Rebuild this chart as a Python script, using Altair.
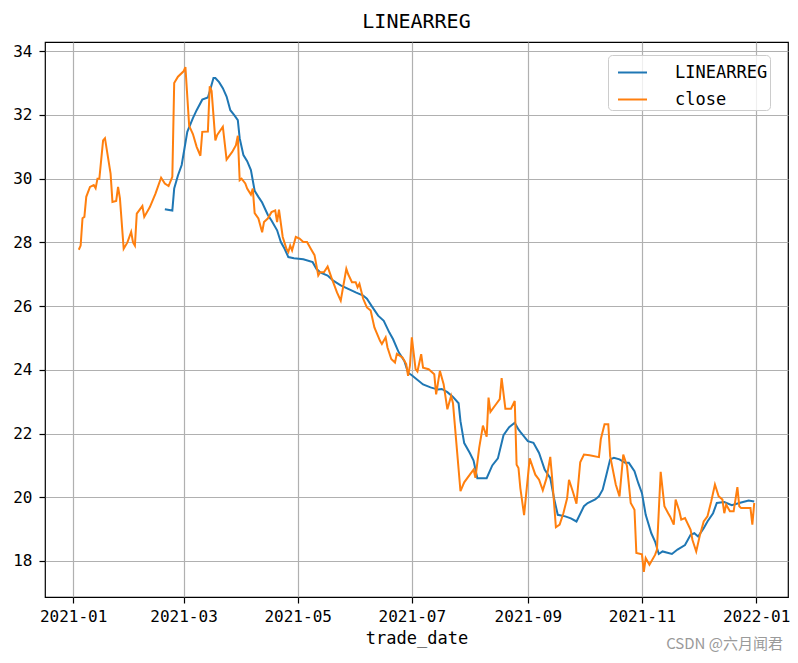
import altair as alt
import pandas as pd

series_names = ["LINEARREG", "close"]
series_colors = ["#1f77b4", "#ff7f0e"]
y_ticks = [18, 20, 22, 24, 26, 28, 30, 32, 34]
x_tick_months = [(2021, 1), (2021, 3), (2021, 5), (2021, 7), (2021, 9), (2021, 11), (2022, 1)]

close_dates = [
    "2021-01-04", "2021-01-05", "2021-01-06", "2021-01-07", "2021-01-08", "2021-01-10",
    "2021-01-12", "2021-01-13", "2021-01-14", "2021-01-15", "2021-01-17", "2021-01-18",
    "2021-01-21", "2021-01-22", "2021-01-24", "2021-01-25", "2021-01-26", "2021-01-28",
    "2021-01-30", "2021-02-01", "2021-02-02", "2021-02-03", "2021-02-04", "2021-02-07",
    "2021-02-08", "2021-02-11", "2021-02-14", "2021-02-17", "2021-02-19", "2021-02-21",
    "2021-02-23", "2021-02-24", "2021-02-26", "2021-03-01", "2021-03-02", "2021-03-04",
    "2021-03-06", "2021-03-08", "2021-03-10", "2021-03-11", "2021-03-14", "2021-03-15",
    "2021-03-16", "2021-03-18", "2021-03-19", "2021-03-22", "2021-03-24", "2021-03-27",
    "2021-03-29", "2021-03-30", "2021-03-31", "2021-04-01", "2021-04-03", "2021-04-04",
    "2021-04-06", "2021-04-07", "2021-04-08", "2021-04-10", "2021-04-12", "2021-04-13",
    "2021-04-15", "2021-04-17", "2021-04-19", "2021-04-20", "2021-04-21", "2021-04-23",
    "2021-04-25", "2021-04-26", "2021-04-27", "2021-04-28", "2021-04-30", "2021-05-02",
    "2021-05-04", "2021-05-06", "2021-05-08", "2021-05-10", "2021-05-12", "2021-05-13",
    "2021-05-15", "2021-05-17", "2021-05-19", "2021-05-22", "2021-05-24", "2021-05-27",
    "2021-05-28", "2021-05-30", "2021-06-01", "2021-06-02", "2021-06-03", "2021-06-05",
    "2021-06-07", "2021-06-09", "2021-06-11", "2021-06-14", "2021-06-15", "2021-06-17",
    "2021-06-18", "2021-06-20", "2021-06-22", "2021-06-23", "2021-06-26", "2021-06-28",
    "2021-06-29", "2021-06-30", "2021-07-01", "2021-07-03", "2021-07-04", "2021-07-06",
    "2021-07-07", "2021-07-10", "2021-07-13", "2021-07-14", "2021-07-16", "2021-07-18",
    "2021-07-20", "2021-07-22", "2021-07-23", "2021-07-27", "2021-07-29", "2021-08-01",
    "2021-08-03", "2021-08-04", "2021-08-06", "2021-08-08", "2021-08-10", "2021-08-11",
    "2021-08-12", "2021-08-15", "2021-08-17", "2021-08-18", "2021-08-20", "2021-08-23",
    "2021-08-25", "2021-08-26", "2021-08-27", "2021-08-28", "2021-08-30", "2021-09-02",
    "2021-09-05", "2021-09-07", "2021-09-09", "2021-09-11", "2021-09-13", "2021-09-14",
    "2021-09-16", "2021-09-18", "2021-09-20", "2021-09-22", "2021-09-23", "2021-09-25",
    "2021-09-27", "2021-09-29", "2021-10-01", "2021-10-04", "2021-10-09", "2021-10-10",
    "2021-10-12", "2021-10-14", "2021-10-15", "2021-10-18", "2021-10-20", "2021-10-22",
    "2021-10-24", "2021-10-26", "2021-10-28", "2021-10-29", "2021-11-01", "2021-11-02",
    "2021-11-03", "2021-11-05", "2021-11-08", "2021-11-09", "2021-11-11", "2021-11-13",
    "2021-11-15", "2021-11-16", "2021-11-18", "2021-11-19", "2021-11-21", "2021-11-22",
    "2021-11-24", "2021-11-27", "2021-11-28", "2021-11-30", "2021-12-02", "2021-12-04",
    "2021-12-06", "2021-12-08", "2021-12-10", "2021-12-12", "2021-12-14", "2021-12-15",
    "2021-12-16", "2021-12-18", "2021-12-20", "2021-12-22", "2021-12-23", "2021-12-24",
    "2021-12-29", "2021-12-30", "2021-12-31",
]
close_values = [
    27.77, 27.90, 28.76, 28.80, 29.43, 29.74,
    29.80, 29.70, 30.00, 30.00, 31.20, 31.27,
    30.16, 29.27, 29.30, 29.74, 29.38, 27.80,
    28.00, 28.33, 28.00, 27.90, 28.90, 29.14,
    28.80, 29.11, 29.53, 30.03, 29.85, 29.77,
    30.06, 33.00, 33.20, 33.37, 33.50, 31.66,
    31.40, 31.00, 30.72, 31.47, 31.48, 32.90,
    32.75, 31.20, 31.37, 31.63, 30.60, 30.84,
    31.05, 31.35, 29.95, 30.00, 29.85, 29.69,
    29.50, 29.69, 28.92, 28.75, 28.32, 28.64,
    28.75, 28.95, 29.00, 28.64, 29.03, 28.17,
    27.80, 27.70, 27.90, 27.75, 28.17, 28.12,
    28.01, 28.01, 27.80, 27.60, 26.96, 27.06,
    27.06, 27.24, 26.90, 26.43, 26.17, 27.17,
    27.00, 26.75, 26.75, 26.59, 26.70, 26.23,
    25.96, 25.86, 25.33, 24.91, 24.81, 25.02,
    24.70, 24.34, 24.23, 24.50, 24.39, 24.18,
    23.81, 24.13, 25.02, 24.02, 23.95, 24.49,
    24.07, 24.02, 23.86, 23.23, 23.97, 23.55,
    22.76, 23.18, 22.95, 20.19, 20.47, 20.71,
    20.87, 20.61, 21.55, 22.25, 21.90, 23.13,
    22.68, 22.92, 23.08, 23.74, 22.78, 22.78,
    23.02, 21.02, 20.92, 20.29, 19.44, 21.22,
    20.71, 20.55, 20.22, 20.60, 21.27, 20.60,
    19.06, 19.14, 19.50, 19.97, 20.55, 20.19,
    19.80, 21.10, 21.34, 21.32, 21.26, 21.82,
    22.29, 22.29, 21.29, 20.40, 20.03, 21.34,
    20.98, 19.82, 19.61, 18.25, 18.21, 17.66,
    18.09, 17.88, 18.19, 18.35, 20.80, 19.72,
    19.50, 19.40, 19.14, 19.93, 19.56, 19.30,
    19.35, 18.98, 18.66, 18.30, 18.82, 19.24,
    19.40, 19.87, 20.40, 20.03, 19.93, 19.50,
    19.77, 19.56, 19.56, 20.32, 19.72, 19.66,
    19.66, 19.14, 19.82,
]

lr_dates = [
    "2021-02-19", "2021-02-23", "2021-02-24", "2021-02-26", "2021-02-28", "2021-03-03",
    "2021-03-06", "2021-03-08", "2021-03-11", "2021-03-14", "2021-03-15", "2021-03-17",
    "2021-03-18", "2021-03-20", "2021-03-22", "2021-03-24", "2021-03-26", "2021-03-28",
    "2021-03-30", "2021-03-31", "2021-04-02", "2021-04-04", "2021-04-06", "2021-04-08",
    "2021-04-10", "2021-04-12", "2021-04-15", "2021-04-17", "2021-04-20", "2021-04-22",
    "2021-04-24", "2021-04-26", "2021-04-29", "2021-05-04", "2021-05-09", "2021-05-11",
    "2021-05-13", "2021-05-17", "2021-05-20", "2021-05-24", "2021-05-28", "2021-06-01",
    "2021-06-05", "2021-06-07", "2021-06-10", "2021-06-13", "2021-06-16", "2021-06-19",
    "2021-06-21", "2021-06-24", "2021-06-27", "2021-06-29", "2021-07-01", "2021-07-07",
    "2021-07-11", "2021-07-15", "2021-07-17", "2021-07-20", "2021-07-23", "2021-07-26",
    "2021-07-27", "2021-07-29", "2021-08-01", "2021-08-03", "2021-08-05", "2021-08-10",
    "2021-08-13", "2021-08-16", "2021-08-19", "2021-08-22", "2021-08-25", "2021-08-27",
    "2021-08-28", "2021-09-01", "2021-09-04", "2021-09-07", "2021-09-10", "2021-09-13",
    "2021-09-15", "2021-09-17", "2021-09-21", "2021-09-24", "2021-09-27", "2021-10-01",
    "2021-10-03", "2021-10-07", "2021-10-09", "2021-10-11", "2021-10-13", "2021-10-15",
    "2021-10-17", "2021-10-20", "2021-10-23", "2021-10-25", "2021-10-28", "2021-10-30",
    "2021-11-01", "2021-11-03", "2021-11-06", "2021-11-08", "2021-11-10", "2021-11-12",
    "2021-11-17", "2021-11-20", "2021-11-24", "2021-11-27", "2021-11-29", "2021-12-01",
    "2021-12-04", "2021-12-06", "2021-12-09", "2021-12-11", "2021-12-15", "2021-12-19",
    "2021-12-23", "2021-12-28", "2021-12-31",
]
lr_values = [
    29.04, 29.00, 29.69, 30.10, 30.43, 31.47,
    31.90, 32.15, 32.48, 32.55, 32.74, 33.16,
    33.16, 33.03, 32.84, 32.58, 32.15, 32.00,
    31.84, 31.27, 30.74, 30.55, 30.27, 29.62,
    29.43, 29.25, 28.87, 28.69, 28.38, 28.01,
    27.80, 27.54, 27.50, 27.47, 27.38, 27.17,
    27.06, 26.96, 26.80, 26.65, 26.54, 26.43,
    26.33, 26.23, 25.96, 25.70, 25.54, 25.17,
    24.96, 24.55, 24.28, 23.91, 23.83, 23.54,
    23.45, 23.38, 23.40, 23.30, 23.15, 22.95,
    22.39, 21.70, 21.39, 21.15, 20.60, 20.60,
    21.00, 21.22, 21.95, 22.20, 22.34, 22.13,
    22.05, 21.76, 21.71, 21.39, 20.87, 20.60,
    19.97, 19.45, 19.40, 19.34, 19.24, 19.72,
    19.82, 19.93, 20.03, 20.24, 20.71, 21.19,
    21.24, 21.19, 21.08, 21.08, 20.82, 20.45,
    20.13, 19.45, 18.87, 18.61, 18.22, 18.30,
    18.22, 18.36, 18.50, 18.82, 18.87, 18.77,
    19.03, 19.24, 19.50, 19.82, 19.85, 19.75,
    19.82, 19.90, 19.87,
]

watermark = ["CSDN @六月闻君"]

FONT = "DejaVu Sans Mono"

lr_df = pd.DataFrame({"trade_date": pd.to_datetime(lr_dates), "value": lr_values, "series": series_names[0]})
close_df = pd.DataFrame({"trade_date": pd.to_datetime(close_dates), "value": close_values, "series": series_names[1]})

x_enc = alt.X(
    "trade_date:T",
    title="trade_date",
    scale=alt.Scale(
        domain=[
            alt.DateTime(year=2020, month=12, date=16, hours=22, minutes=48),
            alt.DateTime(year=2022, month=1, date=18, hours=1, minutes=12),
        ],
        nice=False,
    ),
    axis=alt.Axis(
        values=[alt.DateTime(year=y, month=m, date=1) for (y, m) in x_tick_months],
        format="%Y-%m",
        labelAngle=0,
        labelPadding=5,
        titlePadding=6,
    ),
)
y_enc = alt.Y(
    "value:Q",
    title=None,
    scale=alt.Scale(domain=[16.87, 34.29], nice=False, zero=False),
    axis=alt.Axis(values=y_ticks, labelPadding=7),
)
color_enc = alt.Color(
    "series:N",
    title=None,
    scale=alt.Scale(domain=series_names, range=series_colors),
    legend=alt.Legend(
        orient="none",
        legendX=563,
        legendY=13,
        symbolType="stroke",
        symbolSize=841,
        symbolStrokeWidth=2,
        symbolOffset=7,
        labelFont=FONT,
        labelFontSize=17,
        labelColor="black",
        labelOffset=27,
        padding=2,
        rowPadding=3,
        fillColor="rgba(255,255,255,0.8)",
        strokeColor="#cccccc",
        cornerRadius=4,
    ),
)

lr_line = alt.Chart(lr_df).mark_line(strokeWidth=2).encode(x=x_enc, y=y_enc, color=color_enc)
close_line = alt.Chart(close_df).mark_line(strokeWidth=2).encode(x=x_enc, y=y_enc, color=color_enc)

wm = alt.Chart(pd.DataFrame({"t": watermark})).mark_text(
    align="right", baseline="middle", font="Noto Sans CJK SC", fontSize=15, color="#9a9a9a"
).encode(x=alt.value(738), y=alt.value(602), text="t:N")

chart = (
    alt.layer(lr_line, close_line, wm)
    .properties(
        width=743,
        height=555,
        title=alt.TitleParams(
            "LINEARREG", font=FONT, fontSize=20, fontWeight="normal", color="black",
            offset=10, frame="group", anchor="middle",
        ),
        autosize=alt.AutoSizeParams(type="none"),
        padding={"left": 37, "top": 34, "right": 2, "bottom": 56},
    )
    .configure_view(stroke="black", strokeWidth=1.2)
    .configure_axis(
        domain=False,
        grid=True,
        gridColor="#b0b0b0",
        gridWidth=1.2,
        tickColor="black",
        tickSize=6,
        tickWidth=1.2,
        labelFont=FONT,
        labelFontSize=16,
        labelColor="black",
        titleFont=FONT,
        titleFontSize=17,
        titleFontWeight="normal",
        titleColor="black",
    )
)

chart.save("out.html", embed_options={"renderer": "svg", "actions": False})
